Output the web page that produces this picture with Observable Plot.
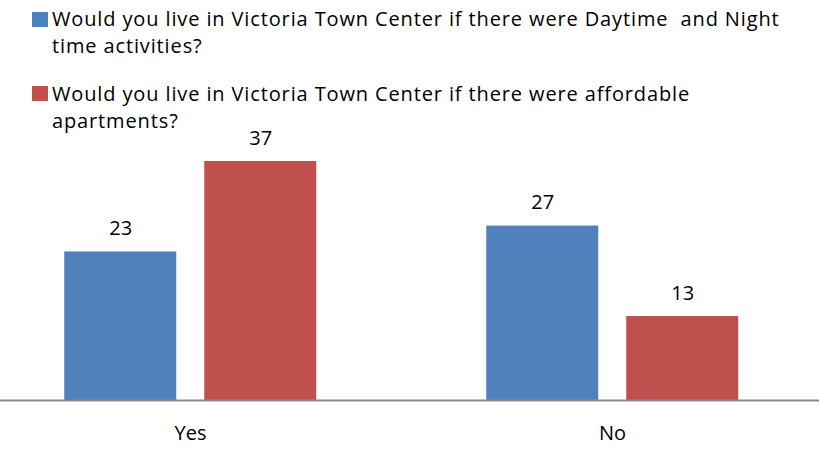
<!DOCTYPE html>
<html>
<head>
<meta charset="utf-8">
<script src="https://cdn.jsdelivr.net/npm/d3@7"></script>
<script src="https://cdn.jsdelivr.net/npm/@observablehq/plot@0.6"></script>
<style>
  body { margin: 0; background: #fff; }
  #wrap { position: relative; width: 819px; height: 449px; overflow: hidden; font-family: "Open Sans", Lato, sans-serif; }
  #legend { position: relative; width: 819px; height: 110px; }
  .item { position: absolute; left: 31.5px; }
  .swatch { position: absolute; left: 0; width: 16px; height: 15px; }
  .label { position: absolute; left: 20.5px; top: 0; width: 735px; font-size: 20px; line-height: 27px; color: #000; white-space: pre-wrap; }
  svg { display: block; overflow: visible; }
</style>
</head>
<body>
<div id="wrap">
  <div id="legend"></div>
  <div id="chart"></div>
</div>
<script>
const categories = ["Yes", "No"];
const seriesNames = [
  "Would you live in Victoria Town Center if there were Daytime  and Night time activities?",
  "Would you live in Victoria Town Center if there were affordable apartments?"
];
const daytimeValues = [23, 27];
const affordableValues = [37, 13];
const colors = ["#4F81BD", "#C0504D"];

const data = categories.flatMap((c, i) => [
  {category: c, series: seriesNames[0], value: daytimeValues[i]},
  {category: c, series: seriesNames[1], value: affordableValues[i]}
]);

// fit legend letter-spacing so the first wrapped line of entry 2 spans ~638px
const ctx = document.createElement("canvas").getContext("2d");
ctx.font = "20px 'Open Sans'";
const firstLine2 = "Would you live in Victoria Town Center if there were affordable";
const measured = ctx.measureText(firstLine2).width;
const spacing = Math.max(0, (638 - measured) / firstLine2.length);

// Legend
const legend = document.getElementById("legend");
const legendTops = [5.4, 80.4];
const swatchTops = [12.5, 86.5];
seriesNames.forEach((name, i) => {
  const item = document.createElement("div");
  item.className = "item";
  item.style.top = legendTops[i] + "px";
  const sw = document.createElement("div");
  sw.className = "swatch";
  sw.style.top = (swatchTops[i] - legendTops[i]) + "px";
  sw.style.background = colors[i];
  const lb = document.createElement("div");
  lb.className = "label";
  lb.style.letterSpacing = spacing.toFixed(2) + "px";
  name.split(/(\s+)/).forEach(tok => {
    if (!tok) return;
    const s = document.createElement("span");
    s.textContent = tok;
    lb.appendChild(s);
  });
  item.appendChild(sw);
  item.appendChild(lb);
  legend.appendChild(item);
});

const chart = Plot.plot({
  width: 819,
  height: 339,
  marginTop: 31.6,
  marginBottom: 49,
  marginLeft: -21.25,
  marginRight: -4.75,
  style: {fontFamily: "'Open Sans', Lato, sans-serif", fontSize: "20px", color: "#000", background: "transparent", overflow: "visible"},
  fx: {domain: categories, padding: 0, label: null, axis: "bottom", tickSize: 0, tickPadding: 25},
  x: {domain: seriesNames, axis: null, paddingInner: 0.1986, paddingOuter: 0.5976},
  y: {domain: [0, 40], axis: null},
  color: {domain: seriesNames, range: colors},
  marks: [
    Plot.barY(data, {fx: "category", x: "series", y: "value", fill: "series"}),
    Plot.text(data, {fx: "category", x: "series", y: "value", text: d => String(d.value), dy: -23, fontSize: 20, fill: "#000"}),
    Plot.ruleY([0], {stroke: "#898989", strokeWidth: 1.8})
  ]
});
document.getElementById("chart").appendChild(chart);
</script>
</body>
</html>
